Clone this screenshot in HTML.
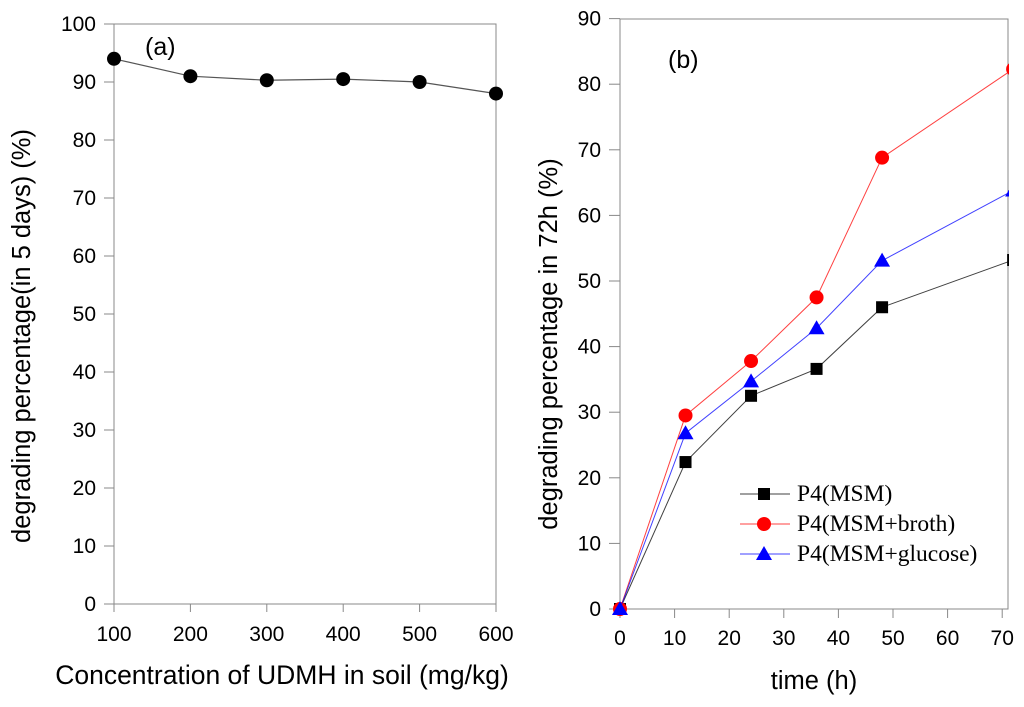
<!DOCTYPE html>
<html><head><meta charset="utf-8"><style>
body{margin:0;background:#fff}
text{font-family:"Liberation Sans",sans-serif;fill:#000}
</style></head><body>
<svg width="1024" height="702" xmlns="http://www.w3.org/2000/svg">
<g id="a"></g>
<g id="b"></g>
</svg>
<script>
const aX=[100,200,300,400,500,600];
const aY=[94,91,90.3,90.5,90,88];
const bX=[0,12,24,36,48,72];
const bMSM=[0,22.4,32.5,36.6,46,53.2];
const bBroth=[0,29.5,37.8,47.5,68.8,82.3];
const bGlucose=[0,26.8,34.7,42.8,53.1,63.8];
const aTicksY=[0,10,20,30,40,50,60,70,80,90,100];
const aTicksX=[100,200,300,400,500,600];
const bTicksY=[0,10,20,30,40,50,60,70,80,90];
const bTicksX=[0,10,20,30,40,50,60,70];
const NS="http://www.w3.org/2000/svg";
function mk(p,t,at,txt){const e=document.createElementNS(NS,t);for(const k in at)e.setAttribute(k,at[k]);if(txt!==undefined)e.textContent=txt;p.appendChild(e);return e;}
// panel a
const A=document.getElementById('a');
const ax=v=>114+(v-100)/500*382, ay=v=>604-v*5.8;
let e=mk(A,'rect',{x:114,y:24,width:382,height:580,fill:'none',stroke:'#888','stroke-width':1});

aTicksY.forEach(t=>{mk(A,'line',{x1:104,x2:114,y1:ay(t),y2:ay(t),stroke:'#888'});
 e=mk(A,'text',{x:96,y:ay(t)+7,'text-anchor':'end','font-size':21},t);});
aTicksX.forEach(t=>{mk(A,'line',{x1:ax(t),x2:ax(t),y1:604,y2:612,stroke:'#888'});
 e=mk(A,'text',{x:ax(t),y:641,'text-anchor':'middle','font-size':21},t);});
e=mk(A,'polyline',{points:aX.map((x,i)=>ax(x)+','+ay(aY[i])).join(' '),fill:'none',stroke:'#555','stroke-width':1.2});

aX.forEach((x,i)=>{e=mk(A,'circle',{cx:ax(x),cy:ay(aY[i]),r:7,fill:'#000'});});
e=mk(A,'text',{x:145,y:55,'font-size':25},'(a)');
e=mk(A,'text',{x:282,y:684,'text-anchor':'middle','font-size':26.5},'Concentration of UDMH in soil (mg/kg)');
e=mk(A,'text',{transform:'translate(30,336) rotate(-90)','text-anchor':'middle','font-size':25.5},'degrading percentage(in 5 days) (%)');
// panel b
const B=document.getElementById('b');
const bx=v=>620+v*5.46, by=v=>609-v*6.56;
e=mk(B,'rect',{x:620,y:19,width:388,height:590,fill:'none',stroke:'#888'});

bTicksY.forEach(t=>{mk(B,'line',{x1:609,x2:620,y1:by(t),y2:by(t),stroke:'#888'});
 e=mk(B,'text',{x:601,y:by(t)+7,'text-anchor':'end','font-size':21},t);});
bTicksX.forEach(t=>{mk(B,'line',{x1:bx(t),x2:bx(t),y1:609,y2:618,stroke:'#888'});
 e=mk(B,'text',{x:bx(t),y:645,'text-anchor':'middle','font-size':21},t);});
const cp=mk(B,'clipPath',{id:'cb'});mk(cp,'rect',{x:612,y:10,width:397,height:606});
const PG=mk(B,'g',{'clip-path':'url(#cb)'});
function marker(g,type,x,y,c){
 if(type==='sq')return mk(g,'rect',{x:x-6,y:y-6,width:12,height:12,fill:c});
 if(type==='ci')return mk(g,'circle',{cx:x,cy:y,r:7,fill:c});
 return mk(g,'polygon',{points:`${x},${y-8} ${x-8},${y+6} ${x+8},${y+6}`,fill:c});}
const series=[[bMSM,'#000','sq','MSM'],[bBroth,'#f00','ci','broth'],[bGlucose,'#00f','tr','glucose']];
series.forEach(([d,c,m,n])=>{
 e=mk(PG,'polyline',{points:bX.map((x,i)=>bx(x)+','+by(d[i])).join(' '),fill:'none',stroke:c,'stroke-width':1,'stroke-opacity':0.75});
 
 bX.forEach((x,i)=>{e=marker(PG,m,bx(x),by(d[i]),c);});
});
e=mk(B,'text',{x:668,y:68,'font-size':25},'(b)');
const labels=['P4(MSM)','P4(MSM+broth)','P4(MSM+glucose)'];
series.forEach(([d,c,m,n],i)=>{const y=494+i*30;
 const g=mk(B,'g',{});
 mk(g,'line',{x1:740,x2:790,y1:y,y2:y,stroke:c,'stroke-opacity':0.75});
 marker(g,m,764,y,c);
 mk(g,'text',{x:797,y:y+7,'font-size':23.5},labels[i]).setAttribute('style','font-family:"Liberation Serif",serif');});
e=mk(B,'text',{x:814,y:689,'text-anchor':'middle','font-size':25.5},'time (h)');
e=mk(B,'text',{transform:'translate(557,344) rotate(-90)','text-anchor':'middle','font-size':25.5},'degrading percentage in 72h (%)');
</script>
</body></html>
